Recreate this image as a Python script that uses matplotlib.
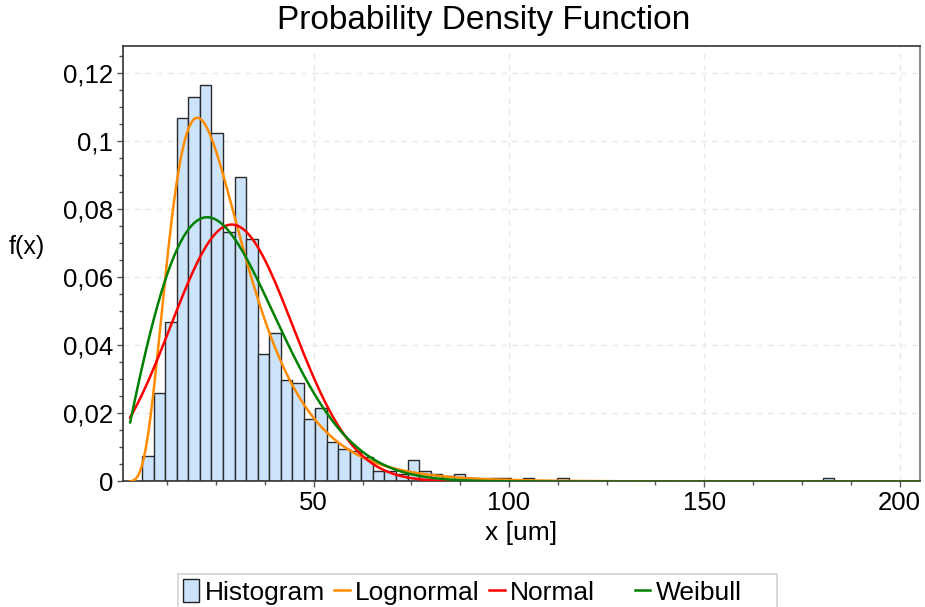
import numpy as np
import matplotlib
matplotlib.use('Agg')
import matplotlib.pyplot as plt
from matplotlib.patches import Patch
from matplotlib.lines import Line2D
from matplotlib.ticker import MultipleLocator, FuncFormatter

plt.rcParams['font.family'] = ['Liberation Sans', 'DejaVu Sans']

# histogram: relative frequency per bin
bin_start = 6.1
bin_width = 2.953
hist_heights = [0.0075, 0.0259, 0.0468, 0.1068, 0.1131, 0.1164, 0.1025, 0.0734,
                0.0896, 0.0714, 0.0374, 0.0437, 0.0298, 0.0289, 0.0183, 0.0215,
                0.0117, 0.0095, 0.0091, 0.0073, 0.0032, 0.0032, 0.0021, 0.0063,
                0.0032, 0.0023, 0.0016, 0.0023, 0.0011, 0.0, 0.0011, 0.0011,
                0.0, 0.0011, 0.0, 0.0, 0.0011, 0.0, 0.0, 0.0,
                0.0, 0.0, 0.0, 0.0, 0.0, 0.0, 0.0, 0.0,
                0.0, 0.0, 0.0, 0.0, 0.0, 0.0, 0.0, 0.0,
                0.0, 0.0, 0.0, 0.0011]

# fitted distribution parameters
lognorm_mu, lognorm_sigma = 3.241, 0.485
norm_mean, norm_sd = 29.0, 15.6
weib_k, weib_lambda = 1.98, 32.4
x_min, x_max = 3.0, 205.0

edges = bin_start + bin_width * np.arange(len(hist_heights))
x = np.linspace(x_min, x_max, 1000)

# pdfs scaled by the bin width so they sit on the histogram
f_lognorm = bin_width / (x * lognorm_sigma * np.sqrt(2 * np.pi)) * \
    np.exp(-(np.log(x) - lognorm_mu) ** 2 / (2 * lognorm_sigma ** 2))
f_norm = bin_width / (norm_sd * np.sqrt(2 * np.pi)) * \
    np.exp(-(x - norm_mean) ** 2 / (2 * norm_sd ** 2))
f_weib = bin_width * (weib_k / weib_lambda) * (x / weib_lambda) ** (weib_k - 1) * \
    np.exp(-(x / weib_lambda) ** weib_k)

fig = plt.figure(figsize=(9.25, 6.07), dpi=100)
ax = fig.add_axes([0.1327, 0.2068, 0.8622, 0.7174])

ax.bar(edges, hist_heights, width=bin_width, align='edge', color='#cce4fb',
       edgecolor='#2a2a2a', linewidth=1.0, zorder=2)
ax.plot(x, f_lognorm, color='#ff8c00', lw=1.8, zorder=3)
ax.plot(x, f_norm, color='#ff0000', lw=1.8, zorder=3)
ax.plot(x, f_weib, color='#008000', lw=1.8, zorder=4)

ax.set_xlim(1.1, 205.3)
ax.set_ylim(0, 0.128)
ax.set_xticks([50, 100, 150, 200])
ax.xaxis.set_minor_locator(MultipleLocator(12.5))
ax.set_yticks([0, 0.02, 0.04, 0.06, 0.08, 0.1, 0.12])
ax.yaxis.set_minor_locator(MultipleLocator(0.005))
ax.yaxis.set_major_formatter(FuncFormatter(lambda v, p: ('%g' % round(v, 3)).replace('.', ',')))
ax.tick_params(which='major', length=4, width=1, color='#555555', labelsize=18.5, pad=3)
ax.tick_params(which='minor', length=3, width=1, color='#555555')
ax.grid(True, which='major', color='#e8e8e8', linestyle=(0, (4, 4)), lw=1, zorder=0)
ax.set_axisbelow(True)
for s in ax.spines.values():
    s.set_color('#333333')
    s.set_linewidth(1.2)
ax.spines['right'].set_color('#777777')

ax.set_xlabel('x [um]', fontsize=19, labelpad=4)
fig.text(27 / 925, 1 - 247 / 607, 'f(x)', fontsize=18, ha='center', va='center')
fig.text(484 / 925, 1 - 21 / 607, 'Probability Density Function', fontsize=24,
         ha='center', va='center')

# legend row, with blank entries to space out the Weibull column
blank = Line2D([], [], linestyle='none')
handles = [Patch(facecolor='#cce4fb', edgecolor='#222222'),
           Line2D([], [], color='#ff8c00', lw=1.8),
           Line2D([], [], color='#ff0000', lw=1.8),
           blank,
           Line2D([], [], color='#008000', lw=1.8),
           blank]
labels = ['Histogram', 'Lognormal', 'Normal', '', 'Weibull', '']
leg = fig.legend(handles, labels, loc='upper left', bbox_to_anchor=(178 / 925, 1 - 574 / 607),
                 ncol=6, fontsize=19, frameon=True, fancybox=False, edgecolor='#c8c8c8',
                 handlelength=0.6, handleheight=0.95, handletextpad=0.2, columnspacing=0.35,
                 borderpad=0.2, borderaxespad=0)
leg.get_frame().set_linewidth(1.2)

fig.savefig('out.png', dpi=100)
